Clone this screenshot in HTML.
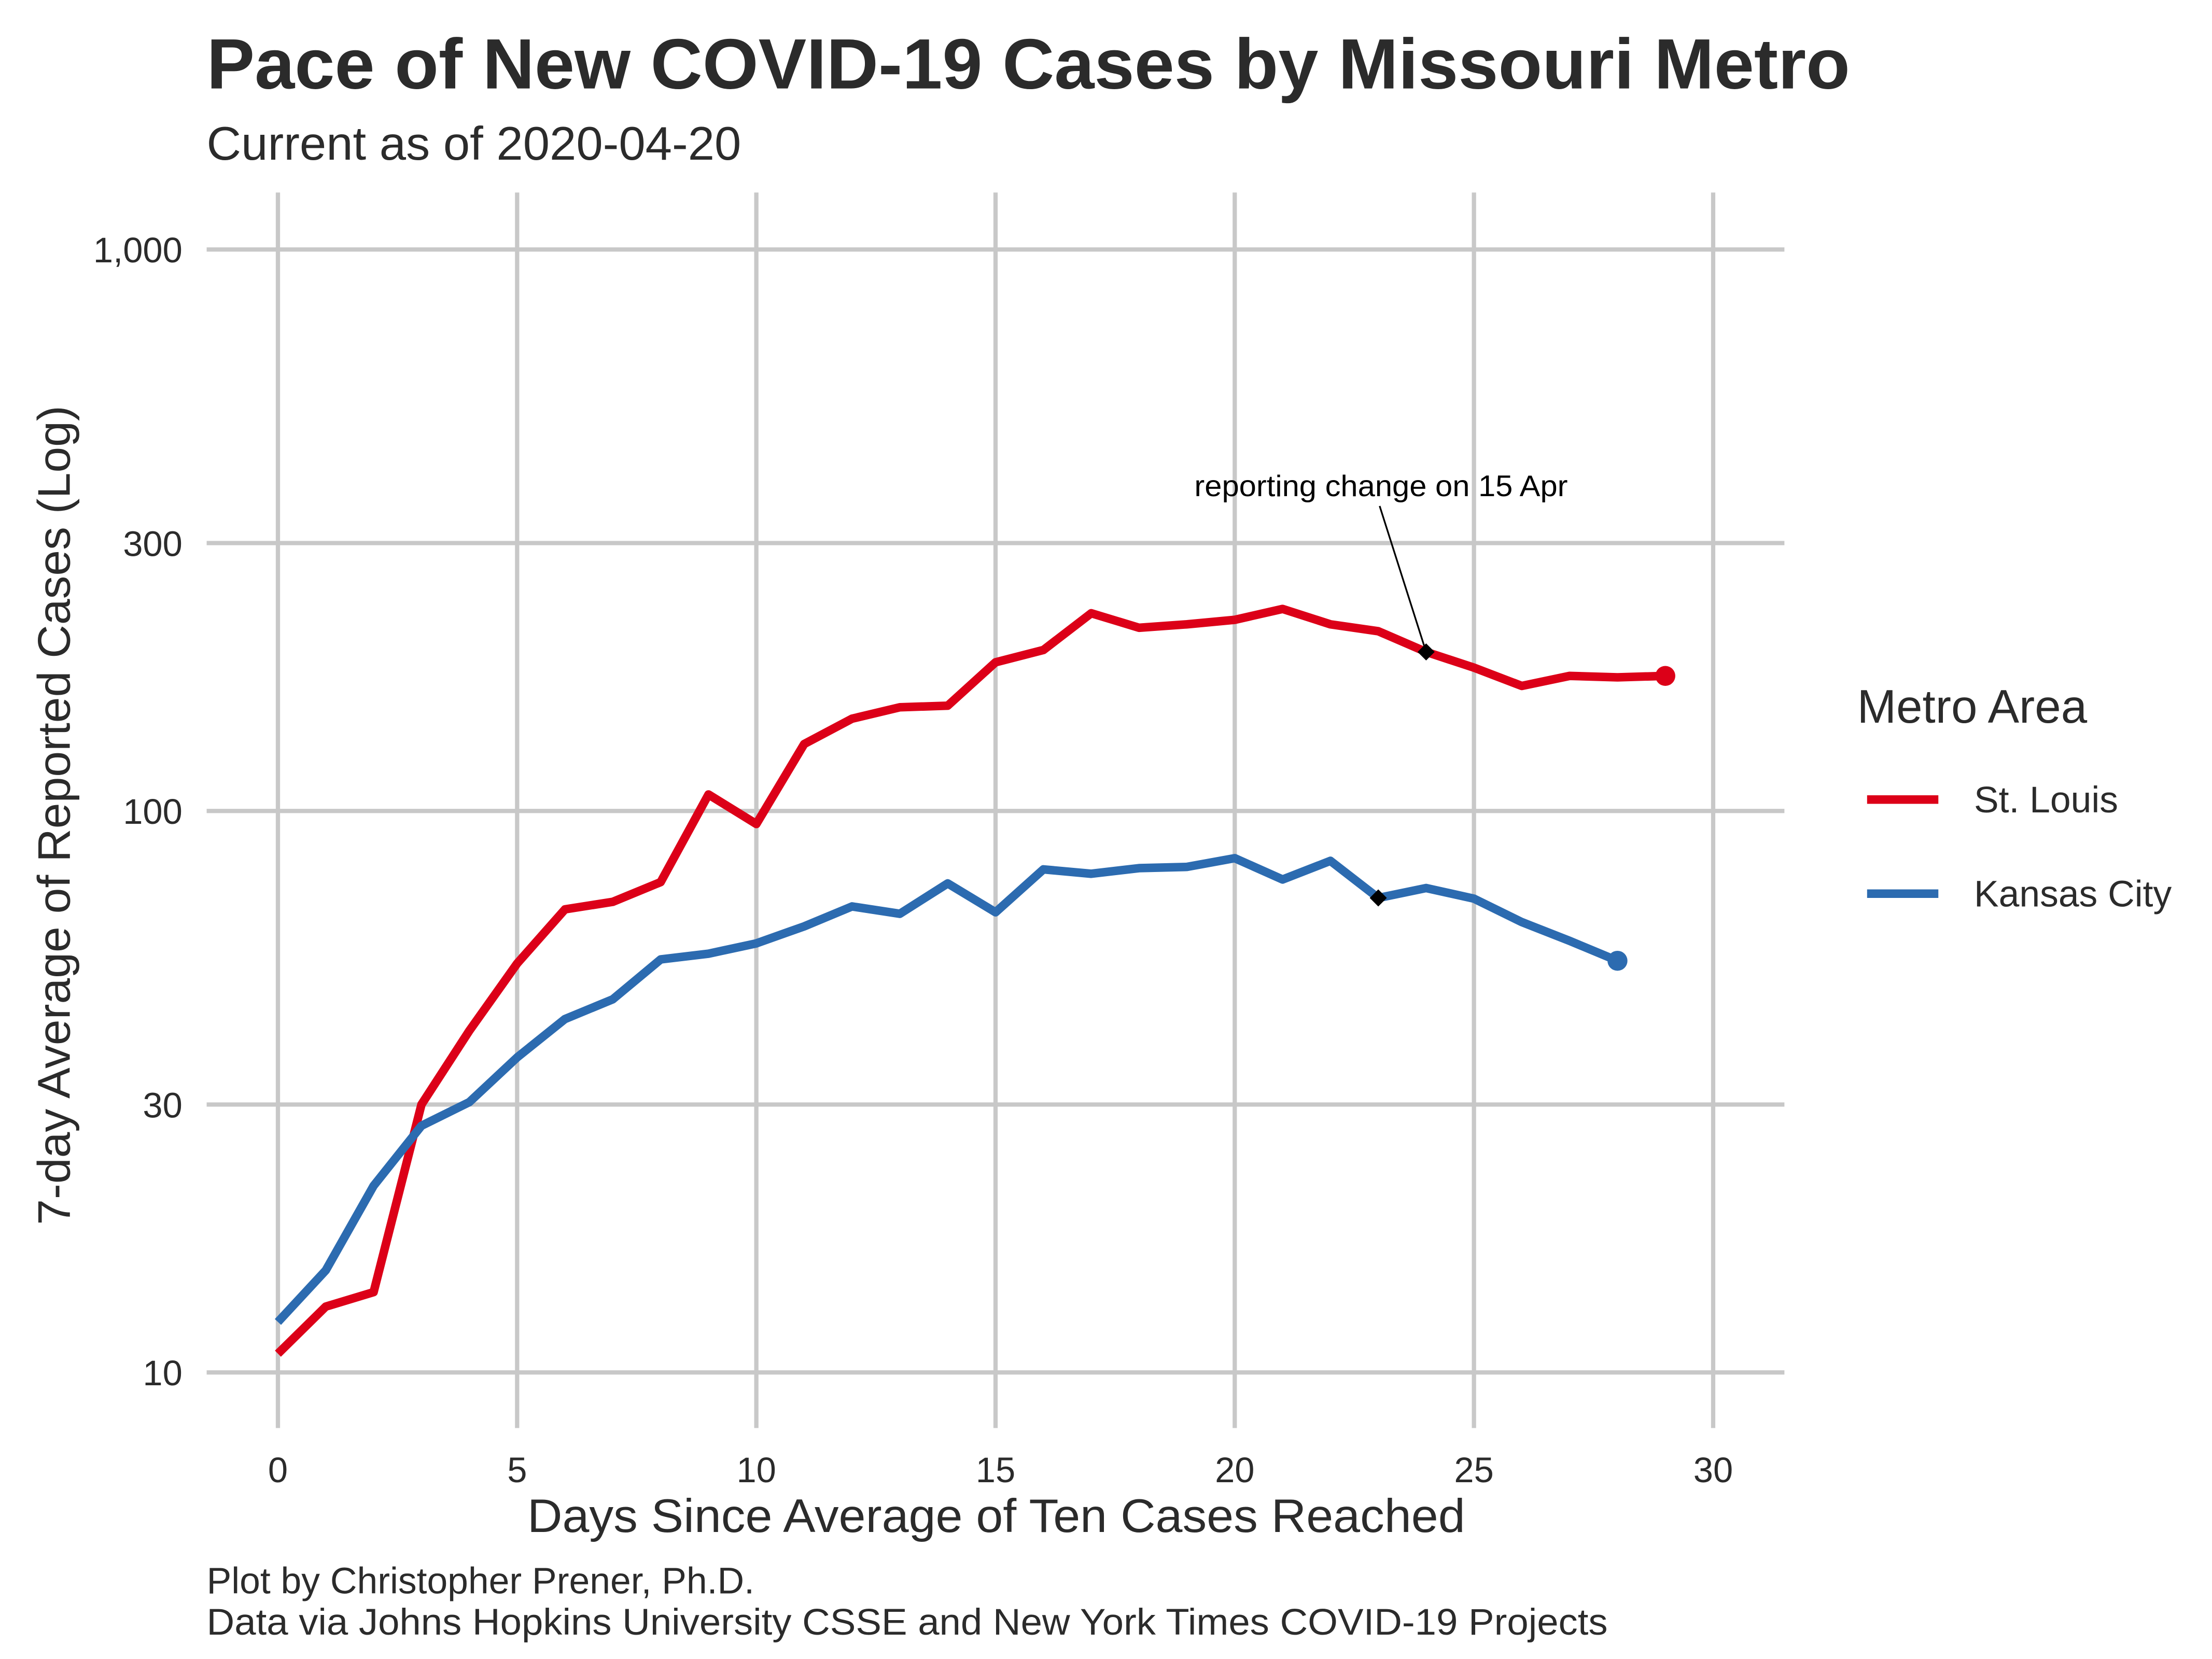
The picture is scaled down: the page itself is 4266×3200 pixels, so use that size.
<!DOCTYPE html>
<html><head><meta charset="utf-8"><style>
html,body{margin:0;padding:0;background:#fff;}
svg{display:block;font-family:"Liberation Sans",Arial,sans-serif;}
</style></head><body>
<svg id="chart" width="4266" height="3200" viewBox="0 0 1552 1164" xmlns="http://www.w3.org/2000/svg">
<rect width="1552" height="1164" fill="#fff"/>
<text x="145" y="62" font-size="50" font-weight="bold" fill="#2b2b2b" textLength="1153" lengthAdjust="spacingAndGlyphs">Pace of New COVID-19 Cases by Missouri Metro</text>
<text x="145" y="112" font-size="33" fill="#2b2b2b" textLength="375" lengthAdjust="spacingAndGlyphs">Current as of 2020-04-20</text>
<g id="grid"></g>
<g id="ticks"></g>
<text x="699" y="1075" font-size="33" text-anchor="middle" fill="#2b2b2b" textLength="658" lengthAdjust="spacingAndGlyphs">Days Since Average of Ten Cases Reached</text>
<text transform="translate(49,572) rotate(-90)" font-size="32" text-anchor="middle" fill="#2b2b2b" textLength="575" lengthAdjust="spacingAndGlyphs">7-day Average of Reported Cases (Log)</text>
<g id="series"></g>
<text x="969" y="348" font-size="21" text-anchor="middle" fill="#000" textLength="262" lengthAdjust="spacingAndGlyphs">reporting change on 15 Apr</text>
<g>
<text x="1303" y="507" font-size="33" fill="#2b2b2b">Metro Area</text>
<line x1="1310" y1="561" x2="1360" y2="561" stroke="#dc0018" stroke-width="6"/>
<text x="1385" y="570" font-size="26" fill="#2b2b2b">St. Louis</text>
<line x1="1310" y1="627" x2="1360" y2="627" stroke="#2c6bb0" stroke-width="6"/>
<text x="1385" y="636" font-size="26" fill="#2b2b2b">Kansas City</text>
</g>
<text x="145" y="1118" font-size="26" fill="#2b2b2b">Plot by Christopher Prener, Ph.D.</text>
<text x="145" y="1147" font-size="26" fill="#2b2b2b" textLength="983" lengthAdjust="spacingAndGlyphs">Data via Johns Hopkins University CSSE and New York Times COVID-19 Projects</text>
</svg>
<script>
const stlValues=[10.8,13.1,13.9,30.0,40.6,53.5,66.8,68.9,74.7,107,94.8,131.6,146,153,154,184,193.5,225,212,215,219,229,215,209,192,180,167,174,173,174];
const kcValues=[12.3,15.2,21.5,27.5,30.3,36.4,42.6,46.2,54.4,55.7,58.1,62.3,67.6,65.6,74.3,66,78.7,77.3,79.1,79.5,82.4,75.5,81.5,70,72.9,69.8,63.4,58.7,54.1];
const xTicks=[0,5,10,15,20,25,30];
const yTicks=[10,30,100,300,1000];
const yTickLabels=["10","30","100","300","1,000"];
const stlChangeDay=24, kcChangeDay=23;

const NS="http://www.w3.org/2000/svg";
const xs=d=>195+d*(1202-195)/30;
const ys=v=>963-(Math.log10(v)-1)*394;
function mk(tag,attrs,parent){const e=document.createElementNS(NS,tag);for(const k in attrs)e.setAttribute(k,attrs[k]);parent.appendChild(e);return e;}
const grid=document.getElementById('grid'),ticks=document.getElementById('ticks'),ser=document.getElementById('series');
yTicks.forEach((v,i)=>{
 const l=mk('line',{x1:145,x2:1252,y1:ys(v),y2:ys(v),stroke:'#c8c8c8','stroke-width':3},grid);
 
 
 const t=mk('text',{x:128,y:ys(v)+9,'font-size':25,'text-anchor':'end',fill:'#2b2b2b'},ticks);
 t.textContent=yTickLabels[i];
 
 
});
xTicks.forEach(d=>{
 const l=mk('line',{x1:xs(d),x2:xs(d),y1:135,y2:1002,stroke:'#c8c8c8','stroke-width':3},grid);
 
 
 const t=mk('text',{x:xs(d),y:1040,'font-size':25,'text-anchor':'middle',fill:'#2b2b2b'},ticks);
 t.textContent=String(d);
 
 
});
function drawSeries(vals,color,name){
 const p=mk('polyline',{points:vals.map((v,i)=>xs(i)+','+ys(v)).join(' '),fill:'none',stroke:color,'stroke-width':6,'stroke-linejoin':'round'},ser);
 
 
 const n=vals.length-1;
 const c=mk('circle',{cx:xs(n),cy:ys(vals[n]),r:7,fill:color},ser);
 
 
}
drawSeries(stlValues,'#dc0018','st-louis');
drawSeries(kcValues,'#2c6bb0','kansas-city');
const ax=xs(stlChangeDay),ay=ys(stlValues[stlChangeDay]);
const al=mk('line',{x1:968,y1:355,x2:ax,y2:ay,stroke:'#000','stroke-width':1.2},ser);


function diamond(x,y,name){
 const d=mk('polygon',{points:`${x},${y-6} ${x+6},${y} ${x},${y+6} ${x-6},${y}`,fill:'#000'},ser);
 
 
}
diamond(ax,ay,'st-louis-reporting-change-marker');
diamond(xs(kcChangeDay),ys(kcValues[kcChangeDay]),'kansas-city-reporting-change-marker');
</script>
</body></html>
